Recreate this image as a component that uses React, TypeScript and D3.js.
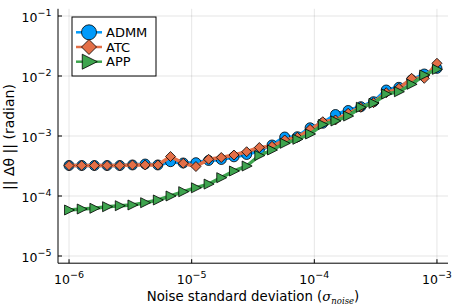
import React from 'react';
import * as d3 from 'd3';

// noise levels (logspace 1e-6 .. 1e-3, 30 points)
const sigma = [
  1.0e-6, 1.269e-6, 1.610e-6, 2.043e-6, 2.593e-6, 3.290e-6, 4.175e-6, 5.298e-6, 6.723e-6, 8.532e-6,
  1.083e-5, 1.374e-5, 1.743e-5, 2.212e-5, 2.807e-5, 3.562e-5, 4.520e-5, 5.736e-5, 7.279e-5, 9.237e-5,
  1.172e-4, 1.487e-4, 1.887e-4, 2.395e-4, 3.039e-4, 3.857e-4, 4.894e-4, 6.210e-4, 7.880e-4, 1.0e-3,
];

const admm = [
  3.22e-4, 3.22e-4, 3.22e-4, 3.22e-4, 3.22e-4, 3.29e-4, 3.41e-4, 3.29e-4, 3.73e-4, 3.55e-4,
  3.59e-4, 3.91e-4, 4.06e-4, 4.5e-4, 4.92e-4, 5.73e-4, 7.08e-4, 9.62e-4, 9.73e-4, 1.37e-3,
  1.63e-3, 2.28e-3, 2.66e-3, 3.08e-3, 3.73e-3, 5.84e-3, 6.48e-3, 8.58e-3, 1.08e-2, 1.34e-2,
];

const atc = [
  3.22e-4, 3.22e-4, 3.22e-4, 3.22e-4, 3.22e-4, 3.29e-4, 3.29e-4, 3.29e-4, 4.55e-4, 3.51e-4,
  3.1e-4, 4.09e-4, 4.38e-4, 4.82e-4, 5.47e-4, 6.43e-4, 6.73e-4, 8.58e-4, 9.51e-4, 1.29e-3,
  1.73e-3, 1.85e-3, 2.39e-3, 3.01e-3, 3.59e-3, 5.27e-3, 6.24e-3, 9.15e-3, 9.15e-3, 1.63e-2,
];

const app = [
  5.84e-5, 6.07e-5, 6.24e-5, 6.63e-5, 6.89e-5, 7.08e-5, 7.73e-5, 8.58e-5, 1.0e-4, 1.18e-4,
  1.37e-4, 1.58e-4, 2.02e-4, 2.61e-4, 3.16e-4, 4.73e-4, 5.84e-4, 7.55e-4, 8.81e-4, 1.08e-3,
  1.55e-3, 1.78e-3, 2.15e-3, 3.01e-3, 3.51e-3, 5.01e-3, 5.47e-3, 7.27e-3, 1.04e-2, 1.29e-2,
];

const seriesNames = ['ADMM', 'ATC', 'APP'];
const xTickExps = [-6, -5, -4, -3];
const yTickExps = [-5, -4, -3, -2, -1];

const W = 457;
const H = 305;
const m = { left: 58, right: 448, top: 8.8, bottom: 263.2 };
const FONT = 'DejaVu Sans, sans-serif';

const x = d3.scaleLog().domain([10 ** -6.09, 10 ** -2.91]).range([m.left, m.right]);
const y = d3.scaleLog().domain([10 ** -5.12, 10 ** -0.88]).range([m.bottom, m.top]);

const colors = ['#009AFA', '#E36F47', '#3EA44E'];

const marker = (kind: number, s: number) => {
  if (kind === 0) return d3.symbol().type(d3.symbolCircle).size(Math.PI * (5 * s) ** 2)();
  if (kind === 1) {
    const r = 5 * s;
    return `M0,${-r}L${r},0L0,${r}L${-r},0Z`;
  }
  const w = 5 * s;
  return `M${-w * 0.9},${-w}L${w * 1.1},0L${-w * 0.9},${w}Z`;
};

const line = d3
  .line<number>()
  .x((_, i) => x(sigma[i]))
  .y((d) => y(d));

export default function App() {
  const data = [admm, atc, app];
  return (
    <svg
      width={W}
      height={H}
      style={{ position: 'absolute', left: 0, top: 0, background: '#fff' }}
      fontFamily={FONT}
    >
      {/* grid */}
      {xTickExps.map((e) => (
        <line key={'gx' + e} x1={x(10 ** e)} x2={x(10 ** e)} y1={m.top} y2={m.bottom} stroke="#000" strokeOpacity={0.1} />
      ))}
      {yTickExps.map((e) => (
        <line key={'gy' + e} x1={m.left} x2={m.right} y1={y(10 ** e)} y2={y(10 ** e)} stroke="#000" strokeOpacity={0.1} />
      ))}

      {/* series */}
      {data.map((vals, k) => (
        <g key={seriesNames[k]}>
          <path d={line(vals) || ''} fill="none" stroke={colors[k]} strokeWidth={3.5} strokeLinejoin="round" />
          {vals.map((v, i) => (
            <path
              key={i}
              d={marker(k, 1) || ''}
              transform={`translate(${x(sigma[i])},${y(v)})`}
              fill={colors[k]}
              stroke="#000"
              strokeWidth={0.8}
            />
          ))}
        </g>
      ))}

      {/* axes */}
      <line x1={m.left} x2={m.left} y1={m.top} y2={m.bottom} stroke="#000" />
      <line x1={m.left} x2={m.right} y1={m.bottom} y2={m.bottom} stroke="#000" />
      {xTickExps.map((e) => (
        <g key={'tx' + e}>
          <line x1={x(10 ** e)} x2={x(10 ** e)} y1={m.bottom} y2={m.bottom - 4} stroke="#000" />
          <text x={x(10 ** e)} y={284} textAnchor="middle" fontSize={12.5} fill="#000">
            10<tspan fontSize={9.5} dy={-6}>{'\u2212' + Math.abs(e)}</tspan>
          </text>
        </g>
      ))}
      {yTickExps.map((e) => (
        <g key={'ty' + e}>
          <line x1={m.left} x2={m.left + 4} y1={y(10 ** e)} y2={y(10 ** e)} stroke="#000" />
          <text x={51.5} y={y(10 ** e) + 6} textAnchor="end" fontSize={12.5} fill="#000">
            10<tspan fontSize={9.5} dy={-6}>{'\u2212' + Math.abs(e)}</tspan>
          </text>
        </g>
      ))}

      {/* axis labels */}
      <text x={(m.left + m.right) / 2} y={301} textAnchor="middle" fontSize={13.3} fill="#000">
        Noise standard deviation (
        <tspan fontFamily="DejaVu Serif, serif" fontStyle="italic">σ</tspan>
        <tspan fontFamily="DejaVu Serif, serif" fontStyle="italic" fontSize={8.5} dy={3}>noise</tspan>
        <tspan dy={-3}>)</tspan>
      </text>
      <text
        transform={`translate(13.5,137) rotate(-90)`}
        textAnchor="middle"
        fontSize={14}
        fill="#000"
      >
        || Δθ || (radian)
      </text>

      {/* legend */}
      <rect x={72} y={17} width={84} height={59} fill="#fff" stroke="#000" strokeWidth={1} />
      {seriesNames.map((name, k) => {
        const cy = 32.3 + k * 14.7;
        return (
          <g key={'lg' + name}>
            <line x1={76} x2={102} y1={cy} y2={cy} stroke={colors[k]} strokeWidth={2.5} />
            <path d={marker(k, 1.5) || ''} transform={`translate(89,${cy})`} fill={colors[k]} stroke="#000" strokeWidth={0.8} />
            <text x={106} y={cy + 4.5} fontSize={13} fill="#000">
              {name}
            </text>
          </g>
        );
      })}
    </svg>
  );
}
